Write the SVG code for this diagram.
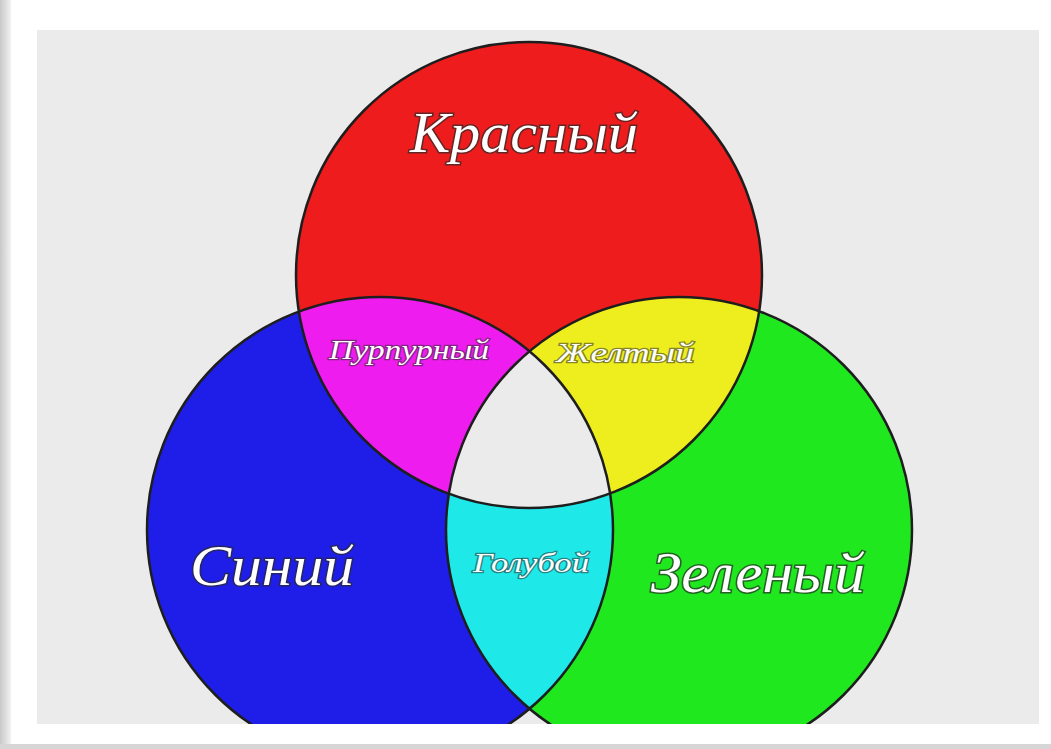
<svg xmlns="http://www.w3.org/2000/svg" width="1051" height="749" viewBox="0 0 1051 749">
<style>
.lbl{font-family:"Liberation Serif","DejaVu Serif",serif;font-style:italic;fill:#ffffff;stroke:#2a2a2a;stroke-width:3;stroke-opacity:0.7;paint-order:stroke;text-anchor:middle}
.big{font-size:58px}
.small{font-size:28px;stroke-width:2.5;stroke-opacity:0.55}
.edge{fill:none;stroke:#1e1e1e;stroke-width:2.5}
</style>
<defs>
<linearGradient id="lsh" x1="0" x2="1" y1="0" y2="0"><stop offset="0" stop-color="#c8c8c8"/><stop offset="1" stop-color="#f2f2f2"/></linearGradient>
<clipPath id="frame"><rect x="37" y="30" width="1002" height="694"/></clipPath>
<clipPath id="cR"><circle cx="529" cy="275" r="233"/></clipPath>
<clipPath id="cB"><circle cx="380" cy="530" r="233"/></clipPath>
<clipPath id="cG"><circle cx="679" cy="530" r="233"/></clipPath>
</defs>
<rect x="0" y="0" width="1051" height="749" fill="#ffffff"/>
<rect x="0" y="0" width="11" height="749" fill="url(#lsh)"/>
<rect x="0" y="744" width="1051" height="5" fill="#d6d6d6"/>
<rect x="37" y="30" width="1002" height="694" fill="#ebebeb"/>
<g clip-path="url(#frame)">
<g id="blue"><circle cx="380" cy="530" r="233" fill="#1e1ee8"/></g>
<g id="green"><circle cx="679" cy="530" r="233" fill="#1fe81f"/></g>
<g id="red"><circle cx="529" cy="275" r="233" fill="#ee1c1c"/></g>
<g id="magenta" clip-path="url(#cB)"><circle cx="529" cy="275" r="233" fill="#ee1cee"/></g>
<g id="yellow" clip-path="url(#cG)"><circle cx="529" cy="275" r="233" fill="#eeee1f"/></g>
<g id="cyan" clip-path="url(#cG)"><circle cx="380" cy="530" r="233" fill="#1fe8e8"/></g>
<g id="white" clip-path="url(#cR)"><g clip-path="url(#cG)"><circle cx="380" cy="530" r="233" fill="#ebebeb"/></g></g>
<g id="outlines">
<circle class="edge" cx="380" cy="530" r="233"/>
<circle class="edge" cx="679" cy="530" r="233"/>
<circle class="edge" cx="529" cy="275" r="233"/>
</g>
</g>
<g id="labels">
<text class="lbl big" x="524" y="152" textLength="228" lengthAdjust="spacingAndGlyphs">Красный</text>
<text class="lbl small" x="409" y="359" textLength="160" lengthAdjust="spacingAndGlyphs">Пурпурный</text>
<text class="lbl small" x="625" y="362" textLength="138" lengthAdjust="spacingAndGlyphs">Желтый</text>
<text class="lbl big" x="272" y="585" textLength="164" lengthAdjust="spacingAndGlyphs">Синий</text>
<text class="lbl small" x="531" y="572" textLength="116" lengthAdjust="spacingAndGlyphs">Голубой</text>
<text class="lbl big" x="758" y="592" textLength="214" lengthAdjust="spacingAndGlyphs">Зеленый</text>
</g>
</svg>
